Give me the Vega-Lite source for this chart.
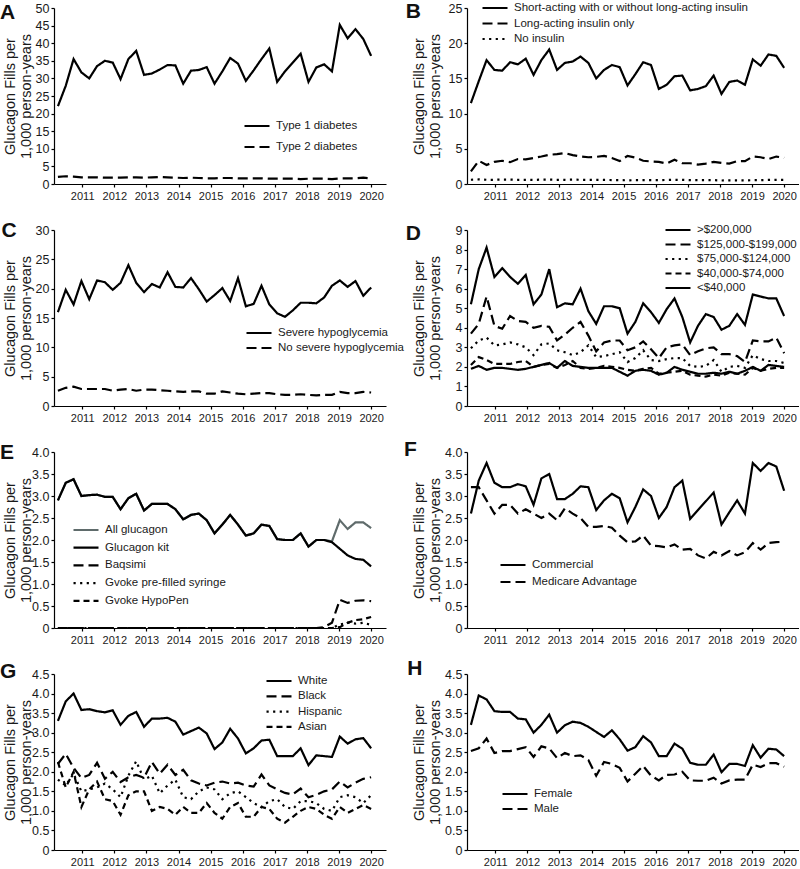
{
"$schema":"https://vega.github.io/schema/vega-lite/v6.json",
"background":"white",
"padding":0,
"columns":2,
"spacing":{"row":46,"column":81},
"bounds":"flush",
"resolve":{"scale":{"strokeDash":"independent","color":"independent","strokeWidth":"independent","x":"independent","y":"independent"},"legend":{"strokeDash":"independent","color":"independent","strokeWidth":"independent"}},
"config":{
 "font":"Liberation Sans",
 "view":{"stroke":null},
 "axis":{"domainColor":"#000","domainWidth":1.2,"tickColor":"#000","tickSize":3,"tickWidth":1.2,"grid":false,"labelColor":"#1a1a1a","titleColor":"#1a1a1a","labelFont":"Liberation Sans","titleFont":"Liberation Sans","labelOverlap":false},
 "axisX":{"labelFontSize":11,"labelPadding":3,"labelAngle":0,"labelFlush":false,"labelOverlap":false},
 "axisY":{"labelFontSize":12.5,"labelPadding":2,"titleFontSize":14.5,"titleFontWeight":"normal","minExtent":20,"maxExtent":20,"titlePadding":0,"titleLineHeight":16.7,"labelOverlap":false},
 "legend":{"orient":"none","title":null,"labelFontSize":11.5,"labelFont":"Liberation Sans","labelColor":"#1a1a1a","symbolType":"stroke","symbolSize":625,"symbolStrokeWidth":2.2,"labelOffset":5,"padding":0,"labelLimit":400,"clipHeight":12},
 "text":{"align":"left","baseline":"alphabetic","fontSize":21,"fontWeight":"bold","font":"Liberation Sans","color":"#111"},
 "line":{"strokeCap":"butt","color":"#000","strokeWidth":2.2}
},
"datasets":{
"names":[{"s":"a1","n":"Type 1 diabetes"},{"s":"a2","n":"Type 2 diabetes"},{"s":"b1","n":"Short-acting with or without long-acting insulin"},{"s":"b2","n":"Long-acting insulin only"},{"s":"b3","n":"No insulin"},{"s":"c1","n":"Severe hypoglycemia"},{"s":"c2","n":"No severe hypoglycemia"},{"s":"d1","n":">$200,000"},{"s":"d2","n":"$125,000-$199,000"},{"s":"d3","n":"$75,000-$124,000"},{"s":"d4","n":"$40,000-$74,000"},{"s":"d5","n":"<$40,000"},{"s":"e1","n":"All glucagon"},{"s":"e2","n":"Glucagon kit"},{"s":"e3","n":"Baqsimi"},{"s":"e4","n":"Gvoke pre-filled syringe"},{"s":"e5","n":"Gvoke HypoPen"},{"s":"f1","n":"Commercial"},{"s":"f2","n":"Medicare Advantage"},{"s":"g1","n":"White"},{"s":"g2","n":"Black"},{"s":"g3","n":"Hispanic"},{"s":"g4","n":"Asian"},{"s":"h1","n":"Female"},{"s":"h2","n":"Male"}],
"A":[
{"s":"a1","i":0,"v":22.1},{"s":"a1","i":1,"v":27.9},{"s":"a1","i":2,"v":35.5},{"s":"a1","i":3,"v":31.7},{"s":"a1","i":4,"v":30.0},{"s":"a1","i":5,"v":33.5},{"s":"a1","i":6,"v":35.0},{"s":"a1","i":7,"v":34.5},{"s":"a1","i":8,"v":29.8},{"s":"a1","i":9,"v":35.5},{"s":"a1","i":10,"v":37.8},{"s":"a1","i":11,"v":31.0},{"s":"a1","i":12,"v":31.4},{"s":"a1","i":13,"v":32.5},{"s":"a1","i":14,"v":33.8},{"s":"a1","i":15,"v":33.7},{"s":"a1","i":16,"v":28.5},{"s":"a1","i":17,"v":32.2},{"s":"a1","i":18,"v":32.4},{"s":"a1","i":19,"v":33.2},{"s":"a1","i":20,"v":28.5},{"s":"a1","i":21,"v":32.0},{"s":"a1","i":22,"v":35.8},{"s":"a1","i":23,"v":34.2},{"s":"a1","i":24,"v":29.3},{"s":"a1","i":25,"v":32.3},{"s":"a1","i":26,"v":35.5},{"s":"a1","i":27,"v":38.5},{"s":"a1","i":28,"v":29.0},{"s":"a1","i":29,"v":32.0},{"s":"a1","i":30,"v":34.5},{"s":"a1","i":31,"v":37.0},{"s":"a1","i":32,"v":29.0},{"s":"a1","i":33,"v":33.1},{"s":"a1","i":34,"v":34.0},{"s":"a1","i":35,"v":32.0},{"s":"a1","i":36,"v":45.2},{"s":"a1","i":37,"v":41.4},{"s":"a1","i":38,"v":44.0},{"s":"a1","i":39,"v":41.2},{"s":"a1","i":40,"v":36.4},
{"s":"a2","i":0,"v":2.0},{"s":"a2","i":1,"v":2.2},{"s":"a2","i":2,"v":2.1},{"s":"a2","i":3,"v":1.9},{"s":"a2","i":4,"v":1.9},{"s":"a2","i":5,"v":1.9},{"s":"a2","i":6,"v":1.8},{"s":"a2","i":7,"v":1.8},{"s":"a2","i":8,"v":1.8},{"s":"a2","i":9,"v":1.9},{"s":"a2","i":10,"v":1.9},{"s":"a2","i":11,"v":1.8},{"s":"a2","i":12,"v":1.9},{"s":"a2","i":13,"v":2.0},{"s":"a2","i":14,"v":1.9},{"s":"a2","i":15,"v":1.8},{"s":"a2","i":16,"v":1.7},{"s":"a2","i":17,"v":1.8},{"s":"a2","i":18,"v":1.7},{"s":"a2","i":19,"v":1.6},{"s":"a2","i":20,"v":1.6},{"s":"a2","i":21,"v":1.7},{"s":"a2","i":22,"v":1.7},{"s":"a2","i":23,"v":1.6},{"s":"a2","i":24,"v":1.6},{"s":"a2","i":25,"v":1.6},{"s":"a2","i":26,"v":1.6},{"s":"a2","i":27,"v":1.5},{"s":"a2","i":28,"v":1.5},{"s":"a2","i":29,"v":1.5},{"s":"a2","i":30,"v":1.5},{"s":"a2","i":31,"v":1.4},{"s":"a2","i":32,"v":1.5},{"s":"a2","i":33,"v":1.5},{"s":"a2","i":34,"v":1.5},{"s":"a2","i":35,"v":1.4},{"s":"a2","i":36,"v":1.6},{"s":"a2","i":37,"v":1.6},{"s":"a2","i":38,"v":1.6},{"s":"a2","i":39,"v":1.8},{"s":"a2","i":40,"v":1.6}
],
"B":[
{"s":"b1","i":0,"v":11.5},{"s":"b1","i":1,"v":14.6},{"s":"b1","i":2,"v":17.6},{"s":"b1","i":3,"v":16.2},{"s":"b1","i":4,"v":16.1},{"s":"b1","i":5,"v":17.3},{"s":"b1","i":6,"v":17.0},{"s":"b1","i":7,"v":17.8},{"s":"b1","i":8,"v":15.5},{"s":"b1","i":9,"v":17.6},{"s":"b1","i":10,"v":19.1},{"s":"b1","i":11,"v":16.2},{"s":"b1","i":12,"v":17.2},{"s":"b1","i":13,"v":17.4},{"s":"b1","i":14,"v":18.1},{"s":"b1","i":15,"v":17.2},{"s":"b1","i":16,"v":15.0},{"s":"b1","i":17,"v":16.2},{"s":"b1","i":18,"v":16.9},{"s":"b1","i":19,"v":16.6},{"s":"b1","i":20,"v":14.0},{"s":"b1","i":21,"v":15.6},{"s":"b1","i":22,"v":17.3},{"s":"b1","i":23,"v":16.9},{"s":"b1","i":24,"v":13.5},{"s":"b1","i":25,"v":14.1},{"s":"b1","i":26,"v":15.3},{"s":"b1","i":27,"v":15.4},{"s":"b1","i":28,"v":13.3},{"s":"b1","i":29,"v":13.5},{"s":"b1","i":30,"v":13.9},{"s":"b1","i":31,"v":15.4},{"s":"b1","i":32,"v":12.8},{"s":"b1","i":33,"v":14.5},{"s":"b1","i":34,"v":14.7},{"s":"b1","i":35,"v":14.1},{"s":"b1","i":36,"v":17.7},{"s":"b1","i":37,"v":16.8},{"s":"b1","i":38,"v":18.4},{"s":"b1","i":39,"v":18.2},{"s":"b1","i":40,"v":16.5},
{"s":"b2","i":0,"v":1.8},{"s":"b2","i":1,"v":3.3},{"s":"b2","i":2,"v":2.7},{"s":"b2","i":3,"v":3.15},{"s":"b2","i":4,"v":3.3},{"s":"b2","i":5,"v":3.1},{"s":"b2","i":6,"v":3.55},{"s":"b2","i":7,"v":3.5},{"s":"b2","i":8,"v":3.7},{"s":"b2","i":9,"v":3.9},{"s":"b2","i":10,"v":4.15},{"s":"b2","i":11,"v":4.25},{"s":"b2","i":12,"v":4.4},{"s":"b2","i":13,"v":4.1},{"s":"b2","i":14,"v":3.9},{"s":"b2","i":15,"v":3.8},{"s":"b2","i":16,"v":3.85},{"s":"b2","i":17,"v":4.0},{"s":"b2","i":18,"v":3.7},{"s":"b2","i":19,"v":3.25},{"s":"b2","i":20,"v":4.0},{"s":"b2","i":21,"v":3.75},{"s":"b2","i":22,"v":3.3},{"s":"b2","i":23,"v":3.2},{"s":"b2","i":24,"v":3.15},{"s":"b2","i":25,"v":2.9},{"s":"b2","i":26,"v":3.45},{"s":"b2","i":27,"v":2.95},{"s":"b2","i":28,"v":2.95},{"s":"b2","i":29,"v":2.75},{"s":"b2","i":30,"v":2.9},{"s":"b2","i":31,"v":3.15},{"s":"b2","i":32,"v":3.0},{"s":"b2","i":33,"v":2.9},{"s":"b2","i":34,"v":3.25},{"s":"b2","i":35,"v":3.25},{"s":"b2","i":36,"v":3.9},{"s":"b2","i":37,"v":3.8},{"s":"b2","i":38,"v":3.55},{"s":"b2","i":39,"v":3.9},{"s":"b2","i":40,"v":3.7},
{"s":"b3","i":0,"v":0.6},{"s":"b3","i":1,"v":0.65},{"s":"b3","i":2,"v":0.6},{"s":"b3","i":3,"v":0.6},{"s":"b3","i":4,"v":0.62},{"s":"b3","i":5,"v":0.62},{"s":"b3","i":6,"v":0.6},{"s":"b3","i":7,"v":0.6},{"s":"b3","i":8,"v":0.58},{"s":"b3","i":9,"v":0.62},{"s":"b3","i":10,"v":0.62},{"s":"b3","i":11,"v":0.6},{"s":"b3","i":12,"v":0.6},{"s":"b3","i":13,"v":0.62},{"s":"b3","i":14,"v":0.6},{"s":"b3","i":15,"v":0.6},{"s":"b3","i":16,"v":0.58},{"s":"b3","i":17,"v":0.58},{"s":"b3","i":18,"v":0.56},{"s":"b3","i":19,"v":0.55},{"s":"b3","i":20,"v":0.52},{"s":"b3","i":21,"v":0.55},{"s":"b3","i":22,"v":0.55},{"s":"b3","i":23,"v":0.55},{"s":"b3","i":24,"v":0.55},{"s":"b3","i":25,"v":0.58},{"s":"b3","i":26,"v":0.6},{"s":"b3","i":27,"v":0.58},{"s":"b3","i":28,"v":0.55},{"s":"b3","i":29,"v":0.55},{"s":"b3","i":30,"v":0.55},{"s":"b3","i":31,"v":0.55},{"s":"b3","i":32,"v":0.5},{"s":"b3","i":33,"v":0.52},{"s":"b3","i":34,"v":0.52},{"s":"b3","i":35,"v":0.5},{"s":"b3","i":36,"v":0.55},{"s":"b3","i":37,"v":0.55},{"s":"b3","i":38,"v":0.58},{"s":"b3","i":39,"v":0.6},{"s":"b3","i":40,"v":0.6}
],
"C":[
{"s":"c1","i":0,"v":16.0},{"s":"c1","i":1,"v":19.8},{"s":"c1","i":2,"v":17.3},{"s":"c1","i":3,"v":21.3},{"s":"c1","i":4,"v":18.2},{"s":"c1","i":5,"v":21.4},{"s":"c1","i":6,"v":21.1},{"s":"c1","i":7,"v":19.8},{"s":"c1","i":8,"v":21.0},{"s":"c1","i":9,"v":24.0},{"s":"c1","i":10,"v":21.0},{"s":"c1","i":11,"v":19.4},{"s":"c1","i":12,"v":20.8},{"s":"c1","i":13,"v":20.2},{"s":"c1","i":14,"v":22.8},{"s":"c1","i":15,"v":20.3},{"s":"c1","i":16,"v":20.2},{"s":"c1","i":17,"v":21.8},{"s":"c1","i":18,"v":19.9},{"s":"c1","i":19,"v":17.8},{"s":"c1","i":20,"v":18.9},{"s":"c1","i":21,"v":20.1},{"s":"c1","i":22,"v":17.9},{"s":"c1","i":23,"v":21.8},{"s":"c1","i":24,"v":17.0},{"s":"c1","i":25,"v":17.4},{"s":"c1","i":26,"v":20.5},{"s":"c1","i":27,"v":17.3},{"s":"c1","i":28,"v":15.8},{"s":"c1","i":29,"v":15.2},{"s":"c1","i":30,"v":16.3},{"s":"c1","i":31,"v":17.6},{"s":"c1","i":32,"v":17.6},{"s":"c1","i":33,"v":17.5},{"s":"c1","i":34,"v":18.5},{"s":"c1","i":35,"v":20.5},{"s":"c1","i":36,"v":21.4},{"s":"c1","i":37,"v":20.3},{"s":"c1","i":38,"v":21.3},{"s":"c1","i":39,"v":18.8},{"s":"c1","i":40,"v":20.2},
{"s":"c2","i":0,"v":2.6},{"s":"c2","i":1,"v":3.1},{"s":"c2","i":2,"v":3.3},{"s":"c2","i":3,"v":2.9},{"s":"c2","i":4,"v":2.9},{"s":"c2","i":5,"v":2.9},{"s":"c2","i":6,"v":2.9},{"s":"c2","i":7,"v":2.6},{"s":"c2","i":8,"v":2.8},{"s":"c2","i":9,"v":2.9},{"s":"c2","i":10,"v":2.6},{"s":"c2","i":11,"v":2.8},{"s":"c2","i":12,"v":2.8},{"s":"c2","i":13,"v":2.7},{"s":"c2","i":14,"v":2.6},{"s":"c2","i":15,"v":2.5},{"s":"c2","i":16,"v":2.4},{"s":"c2","i":17,"v":2.5},{"s":"c2","i":18,"v":2.5},{"s":"c2","i":19,"v":2.1},{"s":"c2","i":20,"v":2.1},{"s":"c2","i":21,"v":2.5},{"s":"c2","i":22,"v":2.3},{"s":"c2","i":23,"v":2.1},{"s":"c2","i":24,"v":2.0},{"s":"c2","i":25,"v":2.1},{"s":"c2","i":26,"v":2.2},{"s":"c2","i":27,"v":2.2},{"s":"c2","i":28,"v":2.0},{"s":"c2","i":29,"v":1.9},{"s":"c2","i":30,"v":1.9},{"s":"c2","i":31,"v":2.0},{"s":"c2","i":32,"v":1.9},{"s":"c2","i":33,"v":1.8},{"s":"c2","i":34,"v":1.9},{"s":"c2","i":35,"v":1.9},{"s":"c2","i":36,"v":2.4},{"s":"c2","i":37,"v":2.2},{"s":"c2","i":38,"v":2.2},{"s":"c2","i":39,"v":2.4},{"s":"c2","i":40,"v":2.3}
],
"D":[
{"s":"d1","i":0,"v":5.2},{"s":"d1","i":1,"v":7.0},{"s":"d1","i":2,"v":8.1},{"s":"d1","i":3,"v":6.6},{"s":"d1","i":4,"v":7.05},{"s":"d1","i":5,"v":6.6},{"s":"d1","i":6,"v":6.25},{"s":"d1","i":7,"v":6.7},{"s":"d1","i":8,"v":5.2},{"s":"d1","i":9,"v":5.7},{"s":"d1","i":10,"v":7.0},{"s":"d1","i":11,"v":5.05},{"s":"d1","i":12,"v":5.25},{"s":"d1","i":13,"v":5.2},{"s":"d1","i":14,"v":6.0},{"s":"d1","i":15,"v":4.85},{"s":"d1","i":16,"v":4.2},{"s":"d1","i":17,"v":5.1},{"s":"d1","i":18,"v":5.1},{"s":"d1","i":19,"v":5.0},{"s":"d1","i":20,"v":3.7},{"s":"d1","i":21,"v":4.3},{"s":"d1","i":22,"v":5.25},{"s":"d1","i":23,"v":4.8},{"s":"d1","i":24,"v":4.25},{"s":"d1","i":25,"v":4.95},{"s":"d1","i":26,"v":5.5},{"s":"d1","i":27,"v":4.55},{"s":"d1","i":28,"v":3.25},{"s":"d1","i":29,"v":4.1},{"s":"d1","i":30,"v":4.7},{"s":"d1","i":31,"v":4.55},{"s":"d1","i":32,"v":3.9},{"s":"d1","i":33,"v":4.1},{"s":"d1","i":34,"v":4.7},{"s":"d1","i":35,"v":4.15},{"s":"d1","i":36,"v":5.7},{"s":"d1","i":37,"v":5.6},{"s":"d1","i":38,"v":5.5},{"s":"d1","i":39,"v":5.5},{"s":"d1","i":40,"v":4.6},
{"s":"d2","i":0,"v":3.7},{"s":"d2","i":1,"v":4.2},{"s":"d2","i":2,"v":5.6},{"s":"d2","i":3,"v":4.1},{"s":"d2","i":4,"v":3.95},{"s":"d2","i":5,"v":4.6},{"s":"d2","i":6,"v":4.35},{"s":"d2","i":7,"v":4.3},{"s":"d2","i":8,"v":4.0},{"s":"d2","i":9,"v":4.1},{"s":"d2","i":10,"v":4.05},{"s":"d2","i":11,"v":3.35},{"s":"d2","i":12,"v":3.65},{"s":"d2","i":13,"v":4.0},{"s":"d2","i":14,"v":4.3},{"s":"d2","i":15,"v":3.6},{"s":"d2","i":16,"v":2.8},{"s":"d2","i":17,"v":3.25},{"s":"d2","i":18,"v":3.35},{"s":"d2","i":19,"v":3.35},{"s":"d2","i":20,"v":2.85},{"s":"d2","i":21,"v":3.0},{"s":"d2","i":22,"v":3.3},{"s":"d2","i":23,"v":2.9},{"s":"d2","i":24,"v":2.45},{"s":"d2","i":25,"v":3.0},{"s":"d2","i":26,"v":3.1},{"s":"d2","i":27,"v":3.15},{"s":"d2","i":28,"v":2.6},{"s":"d2","i":29,"v":2.8},{"s":"d2","i":30,"v":2.95},{"s":"d2","i":31,"v":3.0},{"s":"d2","i":32,"v":2.65},{"s":"d2","i":33,"v":2.65},{"s":"d2","i":34,"v":2.55},{"s":"d2","i":35,"v":2.25},{"s":"d2","i":36,"v":3.35},{"s":"d2","i":37,"v":3.3},{"s":"d2","i":38,"v":3.3},{"s":"d2","i":39,"v":3.5},{"s":"d2","i":40,"v":2.7},
{"s":"d3","i":0,"v":2.95},{"s":"d3","i":1,"v":3.35},{"s":"d3","i":2,"v":3.5},{"s":"d3","i":3,"v":3.1},{"s":"d3","i":4,"v":3.15},{"s":"d3","i":5,"v":3.25},{"s":"d3","i":6,"v":3.15},{"s":"d3","i":7,"v":3.0},{"s":"d3","i":8,"v":2.6},{"s":"d3","i":9,"v":3.15},{"s":"d3","i":10,"v":3.2},{"s":"d3","i":11,"v":2.85},{"s":"d3","i":12,"v":2.75},{"s":"d3","i":13,"v":2.6},{"s":"d3","i":14,"v":2.75},{"s":"d3","i":15,"v":3.1},{"s":"d3","i":16,"v":2.5},{"s":"d3","i":17,"v":2.55},{"s":"d3","i":18,"v":2.65},{"s":"d3","i":19,"v":2.75},{"s":"d3","i":20,"v":2.25},{"s":"d3","i":21,"v":2.45},{"s":"d3","i":22,"v":2.85},{"s":"d3","i":23,"v":2.35},{"s":"d3","i":24,"v":2.3},{"s":"d3","i":25,"v":2.4},{"s":"d3","i":26,"v":2.45},{"s":"d3","i":27,"v":2.45},{"s":"d3","i":28,"v":2.05},{"s":"d3","i":29,"v":2.0},{"s":"d3","i":30,"v":2.05},{"s":"d3","i":31,"v":2.35},{"s":"d3","i":32,"v":1.75},{"s":"d3","i":33,"v":2.0},{"s":"d3","i":34,"v":2.05},{"s":"d3","i":35,"v":1.95},{"s":"d3","i":36,"v":2.6},{"s":"d3","i":37,"v":2.4},{"s":"d3","i":38,"v":2.3},{"s":"d3","i":39,"v":2.3},{"s":"d3","i":40,"v":2.2},
{"s":"d4","i":0,"v":2.1},{"s":"d4","i":1,"v":2.5},{"s":"d4","i":2,"v":2.35},{"s":"d4","i":3,"v":2.15},{"s":"d4","i":4,"v":2.15},{"s":"d4","i":5,"v":2.15},{"s":"d4","i":6,"v":2.25},{"s":"d4","i":7,"v":2.3},{"s":"d4","i":8,"v":2.0},{"s":"d4","i":9,"v":2.1},{"s":"d4","i":10,"v":2.15},{"s":"d4","i":11,"v":1.95},{"s":"d4","i":12,"v":2.1},{"s":"d4","i":13,"v":2.3},{"s":"d4","i":14,"v":1.95},{"s":"d4","i":15,"v":1.9},{"s":"d4","i":16,"v":1.95},{"s":"d4","i":17,"v":2.05},{"s":"d4","i":18,"v":2.0},{"s":"d4","i":19,"v":1.95},{"s":"d4","i":20,"v":1.85},{"s":"d4","i":21,"v":1.8},{"s":"d4","i":22,"v":1.9},{"s":"d4","i":23,"v":1.95},{"s":"d4","i":24,"v":1.65},{"s":"d4","i":25,"v":1.7},{"s":"d4","i":26,"v":1.75},{"s":"d4","i":27,"v":1.8},{"s":"d4","i":28,"v":1.6},{"s":"d4","i":29,"v":1.55},{"s":"d4","i":30,"v":1.5},{"s":"d4","i":31,"v":1.6},{"s":"d4","i":32,"v":1.55},{"s":"d4","i":33,"v":1.7},{"s":"d4","i":34,"v":1.65},{"s":"d4","i":35,"v":1.6},{"s":"d4","i":36,"v":1.95},{"s":"d4","i":37,"v":1.8},{"s":"d4","i":38,"v":1.9},{"s":"d4","i":39,"v":1.95},{"s":"d4","i":40,"v":1.95},
{"s":"d5","i":0,"v":1.9},{"s":"d5","i":1,"v":2.05},{"s":"d5","i":2,"v":1.85},{"s":"d5","i":3,"v":1.95},{"s":"d5","i":4,"v":1.95},{"s":"d5","i":5,"v":1.9},{"s":"d5","i":6,"v":1.85},{"s":"d5","i":7,"v":1.9},{"s":"d5","i":8,"v":2.0},{"s":"d5","i":9,"v":2.1},{"s":"d5","i":10,"v":2.2},{"s":"d5","i":11,"v":1.95},{"s":"d5","i":12,"v":2.3},{"s":"d5","i":13,"v":2.05},{"s":"d5","i":14,"v":2.0},{"s":"d5","i":15,"v":1.95},{"s":"d5","i":16,"v":1.95},{"s":"d5","i":17,"v":1.95},{"s":"d5","i":18,"v":1.95},{"s":"d5","i":19,"v":1.75},{"s":"d5","i":20,"v":1.55},{"s":"d5","i":21,"v":1.8},{"s":"d5","i":22,"v":1.85},{"s":"d5","i":23,"v":1.8},{"s":"d5","i":24,"v":1.6},{"s":"d5","i":25,"v":1.7},{"s":"d5","i":26,"v":2.0},{"s":"d5","i":27,"v":1.85},{"s":"d5","i":28,"v":1.75},{"s":"d5","i":29,"v":1.65},{"s":"d5","i":30,"v":1.65},{"s":"d5","i":31,"v":1.7},{"s":"d5","i":32,"v":1.65},{"s":"d5","i":33,"v":1.75},{"s":"d5","i":34,"v":1.65},{"s":"d5","i":35,"v":1.8},{"s":"d5","i":36,"v":2.0},{"s":"d5","i":37,"v":1.8},{"s":"d5","i":38,"v":2.1},{"s":"d5","i":39,"v":2.05},{"s":"d5","i":40,"v":2.0}
],
"E":[
{"s":"e1","i":0,"v":2.9},{"s":"e1","i":1,"v":3.3},{"s":"e1","i":2,"v":3.38},{"s":"e1","i":3,"v":3.0},{"s":"e1","i":4,"v":3.02},{"s":"e1","i":5,"v":3.03},{"s":"e1","i":6,"v":2.98},{"s":"e1","i":7,"v":2.98},{"s":"e1","i":8,"v":2.7},{"s":"e1","i":9,"v":2.95},{"s":"e1","i":10,"v":3.05},{"s":"e1","i":11,"v":2.67},{"s":"e1","i":12,"v":2.82},{"s":"e1","i":13,"v":2.82},{"s":"e1","i":14,"v":2.82},{"s":"e1","i":15,"v":2.7},{"s":"e1","i":16,"v":2.47},{"s":"e1","i":17,"v":2.57},{"s":"e1","i":18,"v":2.6},{"s":"e1","i":19,"v":2.45},{"s":"e1","i":20,"v":2.15},{"s":"e1","i":21,"v":2.35},{"s":"e1","i":22,"v":2.57},{"s":"e1","i":23,"v":2.35},{"s":"e1","i":24,"v":2.1},{"s":"e1","i":25,"v":2.15},{"s":"e1","i":26,"v":2.35},{"s":"e1","i":27,"v":2.32},{"s":"e1","i":28,"v":2.02},{"s":"e1","i":29,"v":2.0},{"s":"e1","i":30,"v":2.0},{"s":"e1","i":31,"v":2.15},{"s":"e1","i":32,"v":1.85},{"s":"e1","i":33,"v":2.0},{"s":"e1","i":34,"v":2.0},{"s":"e1","i":35,"v":1.97},{"s":"e1","i":36,"v":2.45},{"s":"e1","i":37,"v":2.25},{"s":"e1","i":38,"v":2.4},{"s":"e1","i":39,"v":2.4},{"s":"e1","i":40,"v":2.27},
{"s":"e2","i":0,"v":2.9},{"s":"e2","i":1,"v":3.3},{"s":"e2","i":2,"v":3.38},{"s":"e2","i":3,"v":3.0},{"s":"e2","i":4,"v":3.02},{"s":"e2","i":5,"v":3.03},{"s":"e2","i":6,"v":2.98},{"s":"e2","i":7,"v":2.98},{"s":"e2","i":8,"v":2.7},{"s":"e2","i":9,"v":2.95},{"s":"e2","i":10,"v":3.05},{"s":"e2","i":11,"v":2.67},{"s":"e2","i":12,"v":2.82},{"s":"e2","i":13,"v":2.82},{"s":"e2","i":14,"v":2.82},{"s":"e2","i":15,"v":2.7},{"s":"e2","i":16,"v":2.47},{"s":"e2","i":17,"v":2.57},{"s":"e2","i":18,"v":2.6},{"s":"e2","i":19,"v":2.45},{"s":"e2","i":20,"v":2.15},{"s":"e2","i":21,"v":2.35},{"s":"e2","i":22,"v":2.57},{"s":"e2","i":23,"v":2.35},{"s":"e2","i":24,"v":2.1},{"s":"e2","i":25,"v":2.15},{"s":"e2","i":26,"v":2.35},{"s":"e2","i":27,"v":2.32},{"s":"e2","i":28,"v":2.02},{"s":"e2","i":29,"v":2.0},{"s":"e2","i":30,"v":2.0},{"s":"e2","i":31,"v":2.15},{"s":"e2","i":32,"v":1.85},{"s":"e2","i":33,"v":2.0},{"s":"e2","i":34,"v":2.0},{"s":"e2","i":35,"v":1.95},{"s":"e2","i":36,"v":1.8},{"s":"e2","i":37,"v":1.65},{"s":"e2","i":38,"v":1.57},{"s":"e2","i":39,"v":1.55},{"s":"e2","i":40,"v":1.4},
{"s":"e3","i":0,"v":0},{"s":"e3","i":1,"v":0},{"s":"e3","i":2,"v":0},{"s":"e3","i":3,"v":0},{"s":"e3","i":4,"v":0},{"s":"e3","i":5,"v":0},{"s":"e3","i":6,"v":0},{"s":"e3","i":7,"v":0},{"s":"e3","i":8,"v":0},{"s":"e3","i":9,"v":0},{"s":"e3","i":10,"v":0},{"s":"e3","i":11,"v":0},{"s":"e3","i":12,"v":0},{"s":"e3","i":13,"v":0},{"s":"e3","i":14,"v":0},{"s":"e3","i":15,"v":0},{"s":"e3","i":16,"v":0},{"s":"e3","i":17,"v":0},{"s":"e3","i":18,"v":0},{"s":"e3","i":19,"v":0},{"s":"e3","i":20,"v":0},{"s":"e3","i":21,"v":0},{"s":"e3","i":22,"v":0},{"s":"e3","i":23,"v":0},{"s":"e3","i":24,"v":0},{"s":"e3","i":25,"v":0},{"s":"e3","i":26,"v":0},{"s":"e3","i":27,"v":0},{"s":"e3","i":28,"v":0},{"s":"e3","i":29,"v":0},{"s":"e3","i":30,"v":0},{"s":"e3","i":31,"v":0},{"s":"e3","i":32,"v":0},{"s":"e3","i":33,"v":0},{"s":"e3","i":34,"v":0.02},{"s":"e3","i":35,"v":0.12},{"s":"e3","i":36,"v":0.64},{"s":"e3","i":37,"v":0.57},{"s":"e3","i":38,"v":0.62},{"s":"e3","i":39,"v":0.63},{"s":"e3","i":40,"v":0.61},
{"s":"e4","i":0,"v":0},{"s":"e4","i":1,"v":0},{"s":"e4","i":2,"v":0},{"s":"e4","i":3,"v":0},{"s":"e4","i":4,"v":0},{"s":"e4","i":5,"v":0},{"s":"e4","i":6,"v":0},{"s":"e4","i":7,"v":0},{"s":"e4","i":8,"v":0},{"s":"e4","i":9,"v":0},{"s":"e4","i":10,"v":0},{"s":"e4","i":11,"v":0},{"s":"e4","i":12,"v":0},{"s":"e4","i":13,"v":0},{"s":"e4","i":14,"v":0},{"s":"e4","i":15,"v":0},{"s":"e4","i":16,"v":0},{"s":"e4","i":17,"v":0},{"s":"e4","i":18,"v":0},{"s":"e4","i":19,"v":0},{"s":"e4","i":20,"v":0},{"s":"e4","i":21,"v":0},{"s":"e4","i":22,"v":0},{"s":"e4","i":23,"v":0},{"s":"e4","i":24,"v":0},{"s":"e4","i":25,"v":0},{"s":"e4","i":26,"v":0},{"s":"e4","i":27,"v":0},{"s":"e4","i":28,"v":0},{"s":"e4","i":29,"v":0},{"s":"e4","i":30,"v":0},{"s":"e4","i":31,"v":0},{"s":"e4","i":32,"v":0},{"s":"e4","i":33,"v":0},{"s":"e4","i":34,"v":0},{"s":"e4","i":35,"v":0},{"s":"e4","i":36,"v":0.08},{"s":"e4","i":37,"v":0.12},{"s":"e4","i":38,"v":0.1},{"s":"e4","i":39,"v":0.12},{"s":"e4","i":40,"v":0.07},
{"s":"e5","i":0,"v":0},{"s":"e5","i":1,"v":0},{"s":"e5","i":2,"v":0},{"s":"e5","i":3,"v":0},{"s":"e5","i":4,"v":0},{"s":"e5","i":5,"v":0},{"s":"e5","i":6,"v":0},{"s":"e5","i":7,"v":0},{"s":"e5","i":8,"v":0},{"s":"e5","i":9,"v":0},{"s":"e5","i":10,"v":0},{"s":"e5","i":11,"v":0},{"s":"e5","i":12,"v":0},{"s":"e5","i":13,"v":0},{"s":"e5","i":14,"v":0},{"s":"e5","i":15,"v":0},{"s":"e5","i":16,"v":0},{"s":"e5","i":17,"v":0},{"s":"e5","i":18,"v":0},{"s":"e5","i":19,"v":0},{"s":"e5","i":20,"v":0},{"s":"e5","i":21,"v":0},{"s":"e5","i":22,"v":0},{"s":"e5","i":23,"v":0},{"s":"e5","i":24,"v":0},{"s":"e5","i":25,"v":0},{"s":"e5","i":26,"v":0},{"s":"e5","i":27,"v":0},{"s":"e5","i":28,"v":0},{"s":"e5","i":29,"v":0},{"s":"e5","i":30,"v":0},{"s":"e5","i":31,"v":0},{"s":"e5","i":32,"v":0},{"s":"e5","i":33,"v":0},{"s":"e5","i":34,"v":0},{"s":"e5","i":35,"v":0},{"s":"e5","i":36,"v":0.02},{"s":"e5","i":37,"v":0.12},{"s":"e5","i":38,"v":0.18},{"s":"e5","i":39,"v":0.2},{"s":"e5","i":40,"v":0.25}
],
"F":[
{"s":"f1","i":0,"v":2.6},{"s":"f1","i":1,"v":3.35},{"s":"f1","i":2,"v":3.75},{"s":"f1","i":3,"v":3.3},{"s":"f1","i":4,"v":3.2},{"s":"f1","i":5,"v":3.2},{"s":"f1","i":6,"v":3.27},{"s":"f1","i":7,"v":3.22},{"s":"f1","i":8,"v":2.8},{"s":"f1","i":9,"v":3.4},{"s":"f1","i":10,"v":3.5},{"s":"f1","i":11,"v":2.93},{"s":"f1","i":12,"v":2.93},{"s":"f1","i":13,"v":3.05},{"s":"f1","i":14,"v":3.22},{"s":"f1","i":15,"v":3.2},{"s":"f1","i":16,"v":2.68},{"s":"f1","i":17,"v":2.9},{"s":"f1","i":18,"v":3.05},{"s":"f1","i":19,"v":2.95},{"s":"f1","i":20,"v":2.4},{"s":"f1","i":21,"v":2.75},{"s":"f1","i":22,"v":3.15},{"s":"f1","i":23,"v":3.0},{"s":"f1","i":24,"v":2.5},{"s":"f1","i":25,"v":2.75},{"s":"f1","i":26,"v":3.2},{"s":"f1","i":27,"v":3.35},{"s":"f1","i":28,"v":2.48},{"s":"f1","i":29,"v":2.68},{"s":"f1","i":30,"v":2.88},{"s":"f1","i":31,"v":3.08},{"s":"f1","i":32,"v":2.35},{"s":"f1","i":33,"v":2.63},{"s":"f1","i":34,"v":2.9},{"s":"f1","i":35,"v":2.6},{"s":"f1","i":36,"v":3.75},{"s":"f1","i":37,"v":3.57},{"s":"f1","i":38,"v":3.75},{"s":"f1","i":39,"v":3.67},{"s":"f1","i":40,"v":3.12},
{"s":"f2","i":0,"v":3.2},{"s":"f2","i":1,"v":3.2},{"s":"f2","i":2,"v":2.9},{"s":"f2","i":3,"v":2.6},{"s":"f2","i":4,"v":2.8},{"s":"f2","i":5,"v":2.8},{"s":"f2","i":6,"v":2.6},{"s":"f2","i":7,"v":2.7},{"s":"f2","i":8,"v":2.6},{"s":"f2","i":9,"v":2.5},{"s":"f2","i":10,"v":2.6},{"s":"f2","i":11,"v":2.45},{"s":"f2","i":12,"v":2.72},{"s":"f2","i":13,"v":2.6},{"s":"f2","i":14,"v":2.5},{"s":"f2","i":15,"v":2.3},{"s":"f2","i":16,"v":2.3},{"s":"f2","i":17,"v":2.32},{"s":"f2","i":18,"v":2.28},{"s":"f2","i":19,"v":2.1},{"s":"f2","i":20,"v":1.95},{"s":"f2","i":21,"v":1.97},{"s":"f2","i":22,"v":2.1},{"s":"f2","i":23,"v":1.87},{"s":"f2","i":24,"v":1.86},{"s":"f2","i":25,"v":1.83},{"s":"f2","i":26,"v":1.9},{"s":"f2","i":27,"v":1.78},{"s":"f2","i":28,"v":1.8},{"s":"f2","i":29,"v":1.65},{"s":"f2","i":30,"v":1.58},{"s":"f2","i":31,"v":1.73},{"s":"f2","i":32,"v":1.65},{"s":"f2","i":33,"v":1.75},{"s":"f2","i":34,"v":1.65},{"s":"f2","i":35,"v":1.72},{"s":"f2","i":36,"v":1.93},{"s":"f2","i":37,"v":1.78},{"s":"f2","i":38,"v":1.93},{"s":"f2","i":39,"v":1.95},{"s":"f2","i":40,"v":1.96}
],
"G":[
{"s":"g1","i":0,"v":3.3},{"s":"g1","i":1,"v":3.8},{"s":"g1","i":2,"v":4.0},{"s":"g1","i":3,"v":3.58},{"s":"g1","i":4,"v":3.6},{"s":"g1","i":5,"v":3.55},{"s":"g1","i":6,"v":3.52},{"s":"g1","i":7,"v":3.57},{"s":"g1","i":8,"v":3.2},{"s":"g1","i":9,"v":3.43},{"s":"g1","i":10,"v":3.53},{"s":"g1","i":11,"v":3.15},{"s":"g1","i":12,"v":3.36},{"s":"g1","i":13,"v":3.36},{"s":"g1","i":14,"v":3.38},{"s":"g1","i":15,"v":3.28},{"s":"g1","i":16,"v":2.95},{"s":"g1","i":17,"v":3.04},{"s":"g1","i":18,"v":3.13},{"s":"g1","i":19,"v":2.98},{"s":"g1","i":20,"v":2.58},{"s":"g1","i":21,"v":2.75},{"s":"g1","i":22,"v":3.1},{"s":"g1","i":23,"v":2.85},{"s":"g1","i":24,"v":2.47},{"s":"g1","i":25,"v":2.6},{"s":"g1","i":26,"v":2.8},{"s":"g1","i":27,"v":2.82},{"s":"g1","i":28,"v":2.4},{"s":"g1","i":29,"v":2.4},{"s":"g1","i":30,"v":2.4},{"s":"g1","i":31,"v":2.6},{"s":"g1","i":32,"v":2.17},{"s":"g1","i":33,"v":2.42},{"s":"g1","i":34,"v":2.4},{"s":"g1","i":35,"v":2.38},{"s":"g1","i":36,"v":2.9},{"s":"g1","i":37,"v":2.72},{"s":"g1","i":38,"v":2.83},{"s":"g1","i":39,"v":2.86},{"s":"g1","i":40,"v":2.6},
{"s":"g2","i":0,"v":2.2},{"s":"g2","i":1,"v":2.46},{"s":"g2","i":2,"v":2.1},{"s":"g2","i":3,"v":1.84},{"s":"g2","i":4,"v":1.92},{"s":"g2","i":5,"v":2.23},{"s":"g2","i":6,"v":1.82},{"s":"g2","i":7,"v":2.0},{"s":"g2","i":8,"v":1.74},{"s":"g2","i":9,"v":1.86},{"s":"g2","i":10,"v":1.92},{"s":"g2","i":11,"v":1.85},{"s":"g2","i":12,"v":2.25},{"s":"g2","i":13,"v":1.95},{"s":"g2","i":14,"v":2.18},{"s":"g2","i":15,"v":1.92},{"s":"g2","i":16,"v":2.05},{"s":"g2","i":17,"v":1.78},{"s":"g2","i":18,"v":1.7},{"s":"g2","i":19,"v":1.65},{"s":"g2","i":20,"v":1.72},{"s":"g2","i":21,"v":1.75},{"s":"g2","i":22,"v":1.7},{"s":"g2","i":23,"v":1.72},{"s":"g2","i":24,"v":1.65},{"s":"g2","i":25,"v":1.62},{"s":"g2","i":26,"v":1.93},{"s":"g2","i":27,"v":1.65},{"s":"g2","i":28,"v":1.55},{"s":"g2","i":29,"v":1.46},{"s":"g2","i":30,"v":1.42},{"s":"g2","i":31,"v":1.57},{"s":"g2","i":32,"v":1.35},{"s":"g2","i":33,"v":1.41},{"s":"g2","i":34,"v":1.5},{"s":"g2","i":35,"v":1.55},{"s":"g2","i":36,"v":1.75},{"s":"g2","i":37,"v":1.6},{"s":"g2","i":38,"v":1.72},{"s":"g2","i":39,"v":1.82},{"s":"g2","i":40,"v":1.86},
{"s":"g3","i":0,"v":1.8},{"s":"g3","i":1,"v":1.65},{"s":"g3","i":2,"v":1.95},{"s":"g3","i":3,"v":1.5},{"s":"g3","i":4,"v":1.55},{"s":"g3","i":5,"v":1.6},{"s":"g3","i":6,"v":1.7},{"s":"g3","i":7,"v":1.55},{"s":"g3","i":8,"v":1.35},{"s":"g3","i":9,"v":1.9},{"s":"g3","i":10,"v":2.27},{"s":"g3","i":11,"v":1.8},{"s":"g3","i":12,"v":1.9},{"s":"g3","i":13,"v":1.45},{"s":"g3","i":14,"v":1.65},{"s":"g3","i":15,"v":1.8},{"s":"g3","i":16,"v":1.35},{"s":"g3","i":17,"v":1.3},{"s":"g3","i":18,"v":1.5},{"s":"g3","i":19,"v":1.6},{"s":"g3","i":20,"v":1.55},{"s":"g3","i":21,"v":1.3},{"s":"g3","i":22,"v":1.45},{"s":"g3","i":23,"v":1.5},{"s":"g3","i":24,"v":1.35},{"s":"g3","i":25,"v":1.2},{"s":"g3","i":26,"v":1.1},{"s":"g3","i":27,"v":1.25},{"s":"g3","i":28,"v":1.3},{"s":"g3","i":29,"v":1.1},{"s":"g3","i":30,"v":1.05},{"s":"g3","i":31,"v":1.25},{"s":"g3","i":32,"v":1.25},{"s":"g3","i":33,"v":1.2},{"s":"g3","i":34,"v":1.05},{"s":"g3","i":35,"v":1.0},{"s":"g3","i":36,"v":1.35},{"s":"g3","i":37,"v":1.4},{"s":"g3","i":38,"v":1.35},{"s":"g3","i":39,"v":1.2},{"s":"g3","i":40,"v":1.4},
{"s":"g4","i":0,"v":2.25},{"s":"g4","i":1,"v":1.6},{"s":"g4","i":2,"v":2.0},{"s":"g4","i":3,"v":1.1},{"s":"g4","i":4,"v":1.55},{"s":"g4","i":5,"v":1.75},{"s":"g4","i":6,"v":1.3},{"s":"g4","i":7,"v":1.25},{"s":"g4","i":8,"v":0.9},{"s":"g4","i":9,"v":1.4},{"s":"g4","i":10,"v":1.5},{"s":"g4","i":11,"v":1.5},{"s":"g4","i":12,"v":1.0},{"s":"g4","i":13,"v":1.1},{"s":"g4","i":14,"v":1.05},{"s":"g4","i":15,"v":0.9},{"s":"g4","i":16,"v":1.1},{"s":"g4","i":17,"v":0.95},{"s":"g4","i":18,"v":0.95},{"s":"g4","i":19,"v":1.2},{"s":"g4","i":20,"v":0.95},{"s":"g4","i":21,"v":0.8},{"s":"g4","i":22,"v":1.1},{"s":"g4","i":23,"v":1.2},{"s":"g4","i":24,"v":0.85},{"s":"g4","i":25,"v":0.85},{"s":"g4","i":26,"v":1.1},{"s":"g4","i":27,"v":1.05},{"s":"g4","i":28,"v":0.8},{"s":"g4","i":29,"v":0.7},{"s":"g4","i":30,"v":0.85},{"s":"g4","i":31,"v":1.0},{"s":"g4","i":32,"v":1.1},{"s":"g4","i":33,"v":1.05},{"s":"g4","i":34,"v":0.9},{"s":"g4","i":35,"v":0.8},{"s":"g4","i":36,"v":1.1},{"s":"g4","i":37,"v":0.95},{"s":"g4","i":38,"v":1.05},{"s":"g4","i":39,"v":1.15},{"s":"g4","i":40,"v":1.05}
],
"H":[
{"s":"h1","i":0,"v":3.2},{"s":"h1","i":1,"v":3.95},{"s":"h1","i":2,"v":3.85},{"s":"h1","i":3,"v":3.55},{"s":"h1","i":4,"v":3.53},{"s":"h1","i":5,"v":3.53},{"s":"h1","i":6,"v":3.36},{"s":"h1","i":7,"v":3.34},{"s":"h1","i":8,"v":3.0},{"s":"h1","i":9,"v":3.2},{"s":"h1","i":10,"v":3.46},{"s":"h1","i":11,"v":3.0},{"s":"h1","i":12,"v":3.19},{"s":"h1","i":13,"v":3.28},{"s":"h1","i":14,"v":3.25},{"s":"h1","i":15,"v":3.15},{"s":"h1","i":16,"v":3.02},{"s":"h1","i":17,"v":2.89},{"s":"h1","i":18,"v":3.06},{"s":"h1","i":19,"v":2.83},{"s":"h1","i":20,"v":2.54},{"s":"h1","i":21,"v":2.63},{"s":"h1","i":22,"v":2.91},{"s":"h1","i":23,"v":2.75},{"s":"h1","i":24,"v":2.4},{"s":"h1","i":25,"v":2.4},{"s":"h1","i":26,"v":2.72},{"s":"h1","i":27,"v":2.59},{"s":"h1","i":28,"v":2.23},{"s":"h1","i":29,"v":2.18},{"s":"h1","i":30,"v":2.18},{"s":"h1","i":31,"v":2.44},{"s":"h1","i":32,"v":1.99},{"s":"h1","i":33,"v":2.2},{"s":"h1","i":34,"v":2.2},{"s":"h1","i":35,"v":2.15},{"s":"h1","i":36,"v":2.68},{"s":"h1","i":37,"v":2.36},{"s":"h1","i":38,"v":2.59},{"s":"h1","i":39,"v":2.57},{"s":"h1","i":40,"v":2.4},
{"s":"h2","i":0,"v":2.53},{"s":"h2","i":1,"v":2.6},{"s":"h2","i":2,"v":2.85},{"s":"h2","i":3,"v":2.48},{"s":"h2","i":4,"v":2.53},{"s":"h2","i":5,"v":2.53},{"s":"h2","i":6,"v":2.58},{"s":"h2","i":7,"v":2.63},{"s":"h2","i":8,"v":2.38},{"s":"h2","i":9,"v":2.65},{"s":"h2","i":10,"v":2.6},{"s":"h2","i":11,"v":2.35},{"s":"h2","i":12,"v":2.48},{"s":"h2","i":13,"v":2.4},{"s":"h2","i":14,"v":2.42},{"s":"h2","i":15,"v":2.3},{"s":"h2","i":16,"v":1.9},{"s":"h2","i":17,"v":2.25},{"s":"h2","i":18,"v":2.2},{"s":"h2","i":19,"v":2.1},{"s":"h2","i":20,"v":1.75},{"s":"h2","i":21,"v":1.95},{"s":"h2","i":22,"v":2.15},{"s":"h2","i":23,"v":1.9},{"s":"h2","i":24,"v":1.78},{"s":"h2","i":25,"v":1.92},{"s":"h2","i":26,"v":1.93},{"s":"h2","i":27,"v":2.0},{"s":"h2","i":28,"v":1.78},{"s":"h2","i":29,"v":1.77},{"s":"h2","i":30,"v":1.77},{"s":"h2","i":31,"v":1.85},{"s":"h2","i":32,"v":1.7},{"s":"h2","i":33,"v":1.78},{"s":"h2","i":34,"v":1.8},{"s":"h2","i":35,"v":1.8},{"s":"h2","i":36,"v":2.18},{"s":"h2","i":37,"v":2.12},{"s":"h2","i":38,"v":2.22},{"s":"h2","i":39,"v":2.22},{"s":"h2","i":40,"v":2.13}
]
},
"concat":[
{"width":332,"height":176,
 "encoding":{
  "x":{"field":"i","type":"quantitative","scale":{"domain":[-0.5,41.9],"nice":false,"zero":false},"axis":{"values":[3.1,7.2,11.3,15.4,19.5,23.6,27.7,31.8,35.9,40],"labelExpr":"'' + (round((datum.value - 3.1) / 4.1) + 2011)","title":null}},
  "y":{"field":"v","type":"quantitative","scale":{"domain":[0,50],"nice":false},"axis":{"values":[0,5,10,15,20,25,30,35,40,45,50],"title":["Glucagon Fills per","1,000 person-years"]}}},
 "layer":[
 {"data":{"name":"A"},"transform":[{"lookup":"s","from":{"data":{"name":"names"},"key":"s","fields":["n"]}}],"mark":{"type":"line"},
  "encoding":{"strokeDash":{"field":"n","type":"nominal","scale":{"domain":["Type 1 diabetes","Type 2 diabetes"],"range":[[1,0],[10,5]]},"legend":{"legendX":189,"legendY":112,"rowPadding":9}}}},
 {"data":{"values":[{"p":"A","i":-0.5,"v":50}]},"mark":{"type":"text","dx":-54,"dy":11},"encoding":{"text":{"field":"p"}}}
]},
{"width":332,"height":176,
 "encoding":{
  "x":{"field":"i","type":"quantitative","scale":{"domain":[-0.5,41.9],"nice":false,"zero":false},"axis":{"values":[3.1,7.2,11.3,15.4,19.5,23.6,27.7,31.8,35.9,40],"labelExpr":"'' + (round((datum.value - 3.1) / 4.1) + 2011)","title":null}},
  "y":{"field":"v","type":"quantitative","scale":{"domain":[0,25],"nice":false},"axis":{"values":[0,5,10,15,20,25],"titlePadding":4,"title":["Glucagon Fills per","1,000 person-years"]}}},
 "layer":[
 {"data":{"name":"B"},"transform":[{"lookup":"s","from":{"data":{"name":"names"},"key":"s","fields":["n"]}}],"mark":{"type":"line"},
  "encoding":{"strokeDash":{"field":"n","type":"nominal","scale":{"domain":["Short-acting with or without long-acting insulin","Long-acting insulin only","No insulin"],"range":[[1,0],[10,5],[2.2,4.4]]},"legend":{"legendX":14,"legendY":-6,"rowPadding":3.5}}}},
 {"data":{"values":[{"p":"B","i":-0.5,"v":25}]},"mark":{"type":"text","dx":-61.3,"dy":9.7},"encoding":{"text":{"field":"p"}}}
]},
{"width":332,"height":176,
 "encoding":{
  "x":{"field":"i","type":"quantitative","scale":{"domain":[-0.5,41.9],"nice":false,"zero":false},"axis":{"values":[3.1,7.2,11.3,15.4,19.5,23.6,27.7,31.8,35.9,40],"labelExpr":"'' + (round((datum.value - 3.1) / 4.1) + 2011)","title":null}},
  "y":{"field":"v","type":"quantitative","scale":{"domain":[0,30],"nice":false},"axis":{"values":[0,5,10,15,20,25,30],"title":["Glucagon Fills per","1,000 person-years"]}}},
 "layer":[
 {"data":{"name":"C"},"transform":[{"lookup":"s","from":{"data":{"name":"names"},"key":"s","fields":["n"]}}],"mark":{"type":"line"},
  "encoding":{"strokeDash":{"field":"n","type":"nominal","scale":{"domain":["Severe hypoglycemia","No severe hypoglycemia"],"range":[[1,0],[10,5]]},"legend":{"legendX":191,"legendY":97,"rowPadding":3}}}},
 {"data":{"values":[{"p":"C","i":-0.5,"v":30}]},"mark":{"type":"text","dx":-52.5,"dy":6.5},"encoding":{"text":{"field":"p"}}}
]},
{"width":332,"height":176,
 "encoding":{
  "x":{"field":"i","type":"quantitative","scale":{"domain":[-0.5,41.9],"nice":false,"zero":false},"axis":{"values":[3.1,7.2,11.3,15.4,19.5,23.6,27.7,31.8,35.9,40],"labelExpr":"'' + (round((datum.value - 3.1) / 4.1) + 2011)","title":null}},
  "y":{"field":"v","type":"quantitative","scale":{"domain":[0,9],"nice":false},"axis":{"values":[0,1,2,3,4,5,6,7,8,9],"titlePadding":4,"title":["Glucagon Fills per","1,000 person-years"]}}},
 "layer":[
 {"data":{"name":"D"},"transform":[{"lookup":"s","from":{"data":{"name":"names"},"key":"s","fields":["n"]}}],"mark":{"type":"line"},
  "encoding":{
  "strokeDash":{"field":"n","type":"nominal","scale":{"domain":[">$200,000","$125,000-$199,000","$75,000-$124,000","$40,000-$74,000","<$40,000"],"range":[[1,0],[10,5],[2.2,4.4],[6,4],[1,0]]},"legend":{"legendX":197,"legendY":-6,"rowPadding":2.5,"symbolStrokeWidth":{"expr":"datum.label === '<$40,000' ? 1.2 : (datum.label === '>$200,000' ? 2.5 : 2.2)"}}},
  "strokeWidth":{"condition":{"test":"datum.n === '<$40,000'","value":1.2},"value":2.3}}},
 {"data":{"values":[{"p":"D","i":-0.5,"v":9}]},"mark":{"type":"text","dx":-61.3,"dy":10},"encoding":{"text":{"field":"p"}}}
]},
{"width":332,"height":176,
 "encoding":{
  "x":{"field":"i","type":"quantitative","scale":{"domain":[-0.5,41.9],"nice":false,"zero":false},"axis":{"values":[3.1,7.2,11.3,15.4,19.5,23.6,27.7,31.8,35.9,40],"labelExpr":"'' + (round((datum.value - 3.1) / 4.1) + 2011)","title":null}},
  "y":{"field":"v","type":"quantitative","scale":{"domain":[0,4],"nice":false},"axis":{"values":[0,0.5,1,1.5,2,2.5,3,3.5,4],"labelExpr":"datum.value == 0 ? '0' : format(datum.value, '.1f')","title":["Glucagon Fills per","1,000 person-years"]}}},
 "layer":[
 {"data":{"name":"E"},"transform":[{"lookup":"s","from":{"data":{"name":"names"},"key":"s","fields":["n"]}}],"mark":{"type":"line"},
  "encoding":{
  "color":{"field":"n","type":"nominal","scale":{"domain":["All glucagon","Glucagon kit","Baqsimi","Gvoke pre-filled syringe","Gvoke HypoPen"],"range":["#5f6b6b","#000000","#000000","#000000","#000000"]},"legend":{"legendX":18,"legendY":72,"rowPadding":5.7,"symbolStrokeWidth":{"expr":"datum.label === 'All glucagon' ? 6 : 2.2"}}},
  "strokeDash":{"field":"n","type":"nominal","scale":{"domain":["All glucagon","Glucagon kit","Baqsimi","Gvoke pre-filled syringe","Gvoke HypoPen"],"range":[[1,0],[1,0],[10,5],[2.2,4.4],[6,4]]}},
  "strokeWidth":{"condition":{"test":"datum.n === 'All glucagon'","value":6},"value":2}}},
 {"data":{"values":[{"p":"E","i":-0.5,"v":4}]},"mark":{"type":"text","dx":-54,"dy":7.4},"encoding":{"text":{"field":"p"}}}
]},
{"width":332,"height":176,
 "encoding":{
  "x":{"field":"i","type":"quantitative","scale":{"domain":[-0.5,41.9],"nice":false,"zero":false},"axis":{"values":[3.1,7.2,11.3,15.4,19.5,23.6,27.7,31.8,35.9,40],"labelExpr":"'' + (round((datum.value - 3.1) / 4.1) + 2011)","title":null}},
  "y":{"field":"v","type":"quantitative","scale":{"domain":[0,4],"nice":false},"axis":{"values":[0,0.5,1,1.5,2,2.5,3,3.5,4],"labelExpr":"datum.value == 0 ? '0' : format(datum.value, '.1f')","titlePadding":4,"title":["Glucagon Fills per","1,000 person-years"]}}},
 "layer":[
 {"data":{"name":"F"},"transform":[{"lookup":"s","from":{"data":{"name":"names"},"key":"s","fields":["n"]}}],"mark":{"type":"line"},
  "encoding":{"strokeDash":{"field":"n","type":"nominal","scale":{"domain":["Commercial","Medicare Advantage"],"range":[[1,0],[10,5]]},"legend":{"legendX":32,"legendY":107,"rowPadding":5}}}},
 {"data":{"values":[{"p":"F","i":-0.5,"v":4}]},"mark":{"type":"text","dx":-63,"dy":4},"encoding":{"text":{"field":"p"}}}
]},
{"width":332,"height":176,
 "encoding":{
  "x":{"field":"i","type":"quantitative","scale":{"domain":[-0.5,41.9],"nice":false,"zero":false},"axis":{"values":[3.1,7.2,11.3,15.4,19.5,23.6,27.7,31.8,35.9,40],"labelExpr":"'' + (round((datum.value - 3.1) / 4.1) + 2011)","title":null}},
  "y":{"field":"v","type":"quantitative","scale":{"domain":[0,4.5],"nice":false},"axis":{"values":[0,0.5,1,1.5,2,2.5,3,3.5,4,4.5],"labelExpr":"datum.value == 0 ? '0' : format(datum.value, '.1f')","title":["Glucagon Fills per","1,000 person-years"]}}},
 "layer":[
 {"data":{"name":"G"},"transform":[{"lookup":"s","from":{"data":{"name":"names"},"key":"s","fields":["n"]}}],"mark":{"type":"line"},
  "encoding":{"strokeDash":{"field":"n","type":"nominal","scale":{"domain":["White","Black","Hispanic","Asian"],"range":[[1,0],[10,5],[2.2,4.4],[6,4]]},"legend":{"legendX":211,"legendY":1,"rowPadding":3.3}}}},
 {"data":{"values":[{"p":"G","i":-0.5,"v":4.5}]},"mark":{"type":"text","dx":-54,"dy":4.3},"encoding":{"text":{"field":"p"}}}
]},
{"width":332,"height":176,
 "encoding":{
  "x":{"field":"i","type":"quantitative","scale":{"domain":[-0.5,41.9],"nice":false,"zero":false},"axis":{"values":[3.1,7.2,11.3,15.4,19.5,23.6,27.7,31.8,35.9,40],"labelExpr":"'' + (round((datum.value - 3.1) / 4.1) + 2011)","title":null}},
  "y":{"field":"v","type":"quantitative","scale":{"domain":[0,4.5],"nice":false},"axis":{"values":[0,0.5,1,1.5,2,2.5,3,3.5,4,4.5],"labelExpr":"datum.value == 0 ? '0' : format(datum.value, '.1f')","titlePadding":4,"title":["Glucagon Fills per","1,000 person-years"]}}},
 "layer":[
 {"data":{"name":"H"},"transform":[{"lookup":"s","from":{"data":{"name":"names"},"key":"s","fields":["n"]}}],"mark":{"type":"line"},
  "encoding":{"strokeDash":{"field":"n","type":"nominal","scale":{"domain":["Female","Male"],"range":[[1,0],[10,5]]},"legend":{"legendX":34,"legendY":114,"rowPadding":3}}}},
 {"data":{"values":[{"p":"H","i":-0.5,"v":4.5}]},"mark":{"type":"text","dx":-59.7,"dy":1},"encoding":{"text":{"field":"p"}}}
]}
]
}
